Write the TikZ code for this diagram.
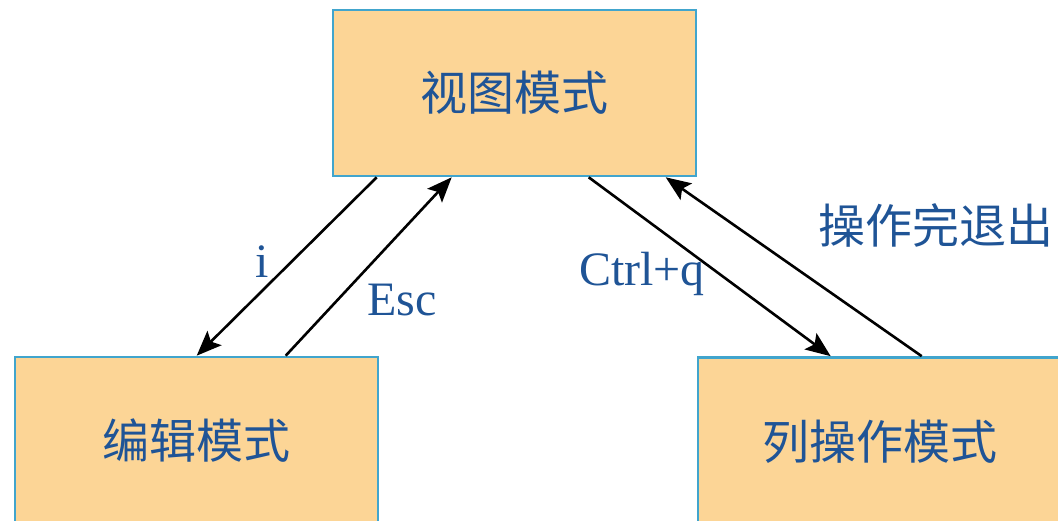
\documentclass[tikz,border=0pt]{standalone}
\usepackage{fontspec}
\setmainfont{Liberation Serif}
\newfontfamily\cjk{Noto Sans CJK SC}
\usetikzlibrary{arrows.meta}
\definecolor{boxfill}{RGB}{252,213,150}
\definecolor{boxline}{RGB}{65,165,205}
\definecolor{txt}{RGB}{31,84,150}
\tikzset{
  modebox/.style={draw=boxline, line width=2.6pt, fill=boxfill, minimum width=363pt, minimum height=166pt, inner sep=0pt, text=txt, font=\cjk\fontsize{47}{52}\selectfont},
  conn/.style={line width=2.6pt, -{Stealth[length=25pt,width=20pt,inset=5pt]}},
  lbl/.style={text=txt, inner sep=0pt, font=\fontsize{48}{54}\selectfont},
  cjklbl/.style={text=txt, inner sep=0pt, font=\cjk\fontsize{47}{52}\selectfont}
}
\begin{document}
\begin{tikzpicture}[x=1pt,y=-1pt]
\path[use as bounding box, clip] (0,0) rectangle (1058,521);
\node[modebox] (view) at (514.5,93) {视图模式};
\node[modebox, minimum height=168pt] (edit) at (196.5,441) {编辑模式};
\node[modebox, minimum height=168pt] (col) at (879.5,441.5) {列操作模式};
\draw[conn] ([xshift=45pt]view.south west) -- ([xshift=183pt]edit.north west);
\draw[conn] ([xshift=272pt]edit.north west) -- ([xshift=120pt]view.south west);
\draw[conn] ([xshift=257pt]view.south west) -- ([xshift=134pt]col.north west);
\draw[conn] ([xshift=225pt]col.north west) -- ([xshift=334pt]view.south west);
\node[lbl] (li) at (262,262) {i};
\node[lbl] (lesc) at (402,300) {Esc};
\node[lbl] (lctrl) at (642,274) {Ctrl+q};
\node[cjklbl] (lquit) at (936,225) {操作完退出};
\end{tikzpicture}
\end{document}
